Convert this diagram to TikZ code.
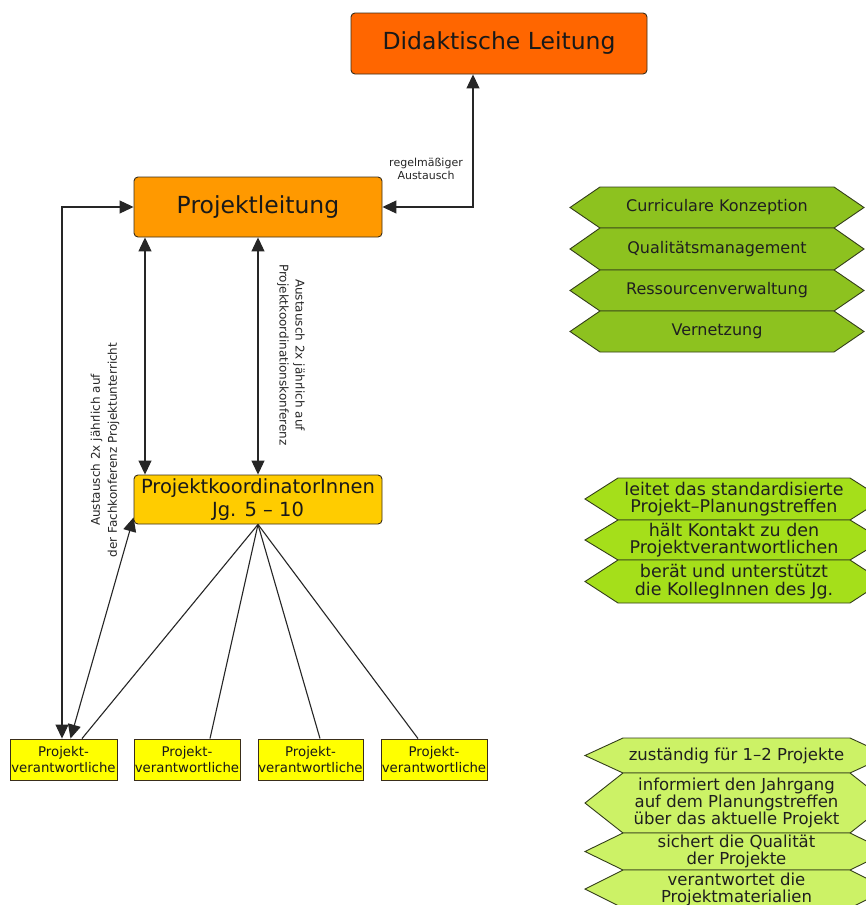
\documentclass[tikz,border=0pt]{standalone}
\usepackage{fontspec}
\setmainfont{DejaVu Sans}
\usetikzlibrary{arrows.meta,calc}
\definecolor{didak}{HTML}{FF6600}
\definecolor{pleit}{HTML}{FF9900}
\definecolor{pkoord}{HTML}{FFCC00}
\definecolor{pverant}{HTML}{FFFF00}
\definecolor{gA}{HTML}{8DC21F}
\definecolor{gB}{HTML}{A5DF1A}
\definecolor{gC}{HTML}{CCF266}
\definecolor{hexborder}{HTML}{333D1A}
\definecolor{boxborder}{HTML}{3A2E1A}
\newcommand\hexa[9]{% name, left, right, top, bottom, indent, fill, font, text
  \filldraw[hexline, fill=#7] (#2,{(#4+#5)/2}) -- ({#2+#6},#4) -- ({#3-#6},#4) -- (#3,{(#4+#5)/2}) -- ({#3-#6},#5) -- ({#2+#6},#5) -- cycle;
  \node[hextext, font=#8] (#1) at ({(#2+#3)/2},{(#4+#5)/2}) {#9};}
\begin{document}
\begin{tikzpicture}[x=1pt,y=-1pt,
  orgbox/.style={draw=boxborder, line width=0.9pt, rounded corners=4pt, inner sep=0pt, align=center, text=black!90},
  pvbox/.style={draw=boxborder, line width=0.9pt, inner sep=0pt, align=center, minimum height=41pt, text=black!90,
      font=\fontsize{13.3}{16}\selectfont},
  hexline/.style={draw=hexborder, line width=0.9pt},
  hextext/.style={align=center, inner sep=0pt, text=black!88},
  conn/.style={draw=black!85, line width=1.1pt},
  biarrow/.style={conn, {Triangle[length=14pt,width=13pt]}-{Triangle[length=14pt,width=13pt]}},
  lbl/.style={align=center, inner sep=0pt, text=black!85}]
\clip (0,0) rectangle (866,905);
\fill[white] (0,0) rectangle (866,905);

% main boxes
\node[orgbox, fill=didak, minimum width=296pt, minimum height=61pt,
  font=\fontsize{23.5}{28}\selectfont] (dl) at (499,43.5) {Didaktische Leitung};
\node[orgbox, fill=pleit, minimum width=248pt, minimum height=60pt,
  font=\fontsize{23.5}{28}\selectfont] (pl) at (258,207) {Projektleitung};
\node[orgbox, fill=pkoord, minimum width=248pt, minimum height=49pt,
  font=\fontsize{19.5}{23}\selectfont] (pk) at (258,499.5) {ProjektkoordinatorInnen\\Jg. 5 – 10};

% bottom boxes
\node[pvbox, fill=pverant, minimum width=107pt] (b1) at (63.5,759.5) {Projekt-\\verantwortliche};
\node[pvbox, fill=pverant, minimum width=106pt] (b2) at (187,759.5) {Projekt-\\verantwortliche};
\node[pvbox, fill=pverant, minimum width=105pt] (b3) at (310.5,759.5) {Projekt-\\verantwortliche};
\node[pvbox, fill=pverant, minimum width=106pt] (b4) at (434,759.5) {Projekt-\\verantwortliche};

% connectors
\draw[biarrow] (pl.east) -| ([xshift=-26pt]dl.south);
\node[lbl, font=\fontsize{11}{13}\selectfont] (lab1) at (426,168.5) {regelmäßiger\\Austausch};

\draw[biarrow] (pl.west) -| ([xshift=-1.5pt]b1.north);
\draw[biarrow] ([xshift=-113pt]pl.south) -- ([xshift=-113pt]pk.north);
\draw[biarrow] (pl.south) -- (pk.north);
\draw[biarrow] ([xshift=7pt]b1.north) -- ([yshift=7pt]pk.south west);

\node[lbl, rotate=-90, font=\fontsize{12}{16}\selectfont] (lab2) at (291,355)
  {Austausch 2x jährlich auf\\Projektkoordinationskonferenz};
\node[lbl, rotate=90, font=\fontsize{12}{17}\selectfont] (lab3) at (105,450)
  {Austausch 2x jährlich auf\\der Fachkonferenz Projektunterricht};

\draw[conn] (pk.south) -- ([xshift=18.5pt]b1.north);
\draw[conn] (pk.south) -- ([xshift=23pt]b2.north);
\draw[conn] (pk.south) -- ([xshift=9.5pt]b3.north);
\draw[conn] (pk.south) -- ([xshift=-16pt]b4.north);

% green hexagons, group 1
\hexa{h1}{570}{864}{187}{228}{30}{gA}{\fontsize{16}{19}\selectfont}{Curriculare Konzeption}
\hexa{h2}{570}{864}{228}{270}{30}{gA}{\fontsize{16}{19}\selectfont}{Qualitätsmanagement}
\hexa{h3}{570}{864}{270}{311}{30}{gA}{\fontsize{16}{19}\selectfont}{Ressourcenverwaltung}
\hexa{h4}{570}{864}{311}{352}{30}{gA}{\fontsize{16}{19}\selectfont}{Vernetzung}

% group 2
\hexa{k1}{585}{883}{478}{520}{33}{gB}{\fontsize{17.5}{17.5}\selectfont}{leitet das standardisierte\\Projekt–Planungstreffen}
\hexa{k2}{585}{883}{520}{560}{33}{gB}{\fontsize{17.5}{17.5}\selectfont}{hält Kontakt zu den\\Projektverantwortlichen}
\hexa{k3}{585}{883}{560}{603}{33}{gB}{\fontsize{17.5}{17.5}\selectfont}{berät und unterstützt\\die KollegInnen des Jg.}

% group 3
\hexa{v1}{585}{888}{738}{773}{38}{gC}{\fontsize{16.5}{17}\selectfont}{zuständig für 1–2 Projekte}
\hexa{v2}{585}{888}{773}{833}{38}{gC}{\fontsize{16.5}{17}\selectfont}{informiert den Jahrgang\\auf dem Planungstreffen\\über das aktuelle Projekt}
\hexa{v3}{585}{888}{833}{870}{38}{gC}{\fontsize{16.5}{17}\selectfont}{sichert die Qualität\\der Projekte}
\hexa{v4}{585}{888}{870}{908}{38}{gC}{\fontsize{16.5}{17}\selectfont}{verantwortet die\\Projektmaterialien}
\end{tikzpicture}
\end{document}
